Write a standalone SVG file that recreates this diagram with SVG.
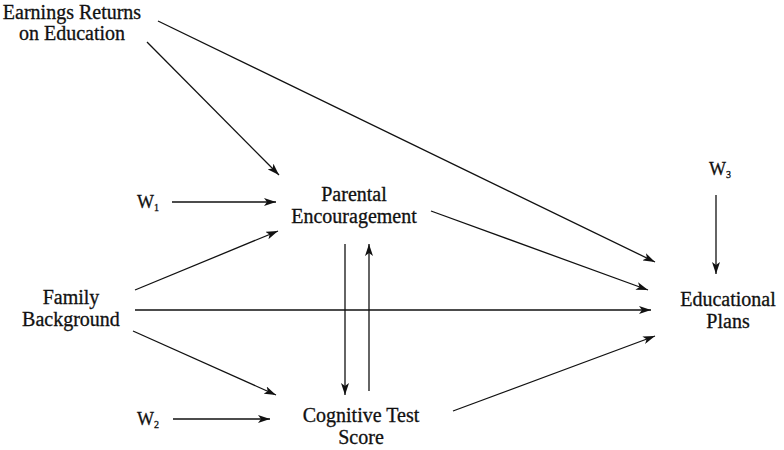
<svg xmlns="http://www.w3.org/2000/svg" width="784" height="450" viewBox="0 0 784 450">
<defs>
<marker id="ah" viewBox="0 0 12 8" refX="12" refY="4" markerWidth="12" markerHeight="8" markerUnits="userSpaceOnUse" orient="auto">
<path d="M0,0 L12,4 L0,8 L3,4 Z" fill="#111"/>
</marker>
</defs>
<style>
text{font-family:"Liberation Serif","Times New Roman",serif;font-size:20px;fill:#111;stroke:#111;stroke-width:0.3;text-anchor:middle}
.w{font-size:18px;text-anchor:start}
.sub{font-size:10px}
#connectors line{stroke:#111;stroke-width:1.3;fill:none;marker-end:url(#ah)}
</style>
<rect width="784" height="450" fill="#fff"/>
<g id="connectors">
<line x1="158" y1="21" x2="655" y2="262"/>
<line x1="147" y1="42" x2="279" y2="175"/>
<line x1="172" y1="202" x2="276" y2="202"/>
<line x1="135" y1="290" x2="278" y2="231"/>
<line x1="135" y1="310" x2="651" y2="310"/>
<line x1="133" y1="331" x2="276" y2="395"/>
<line x1="173" y1="419" x2="270" y2="419"/>
<line x1="431" y1="211" x2="648" y2="290"/>
<line x1="453" y1="411" x2="655" y2="336"/>
<line x1="716" y1="195" x2="716" y2="274"/>
<line x1="345" y1="244" x2="345" y2="395"/>
<line x1="369" y1="391" x2="369" y2="244"/>
</g>
<g id="earnings"><text x="72" y="19">Earnings Returns</text><text x="72" y="40">on Education</text></g>
<g id="w1"><text class="w" x="137" y="208">W<tspan class="sub" dy="3">1</tspan></text></g>
<g id="parental"><text x="354" y="201">Parental</text><text x="354" y="223">Encouragement</text></g>
<g id="family"><text x="71" y="304">Family</text><text x="71" y="326">Background</text></g>
<g id="w2"><text class="w" x="137" y="425">W<tspan class="sub" dy="3">2</tspan></text></g>
<g id="cognitive"><text x="361" y="422">Cognitive Test</text><text x="361" y="444">Score</text></g>
<g id="w3"><text class="w" x="709" y="175">W<tspan class="sub" dy="3">3</tspan></text></g>
<g id="educational"><text x="728" y="306">Educational</text><text x="728" y="328">Plans</text></g>
</svg>
